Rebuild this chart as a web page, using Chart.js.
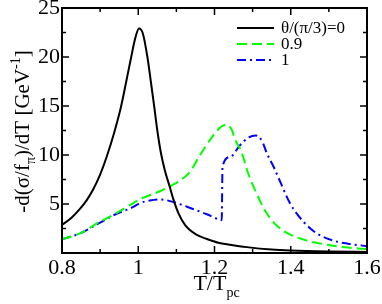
<!DOCTYPE html>
<html lang="en">
  <head>
    <meta charset="UTF-8" />
    <title>-d(sigma/f_pi)/dT vs T/Tpc</title>
    <style>
      body {
        margin: 0;
        background: #fff;
        font-family: "Liberation Serif", serif;
      }
      .chart-container {
        width: 382px;
        height: 304px;
      }
    </style>
  </head>
  <body>
    <div class="chart-container">
      <canvas id="sigmaChart"></canvas>
    </div>

    <script src="https://cdn.jsdelivr.net/npm/chart.js"></script>
    <script>
      // theta/(pi/3) = 0
      const xTheta0 = [0.8, 0.825, 0.847, 0.865, 0.882, 0.9, 0.917, 0.937, 0.954, 0.968, 0.981,
        0.992, 1.002, 1.012, 1.024, 1.033, 1.042, 1.05, 1.06, 1.07, 1.083, 1.092, 1.105, 1.123, 1.154,
        1.18, 1.21, 1.24, 1.285, 1.35, 1.4, 1.5, 1.6];
      const yTheta0 = [2.86, 3.6, 4.5, 5.4, 6.5, 8.0, 9.8, 12.3, 14.8, 17.4, 19.9,
        21.9, 22.9, 22.4, 20.0, 17.5, 14.9, 12.5, 10.1, 8.4, 6.7, 5.5, 4.1, 2.85, 1.84,
        1.43, 1.05, 0.85, 0.6, 0.35, 0.25, 0.15, 0.1];

      // theta/(pi/3) = 0.9
      const xTheta09 = [0.8, 0.847, 0.9, 0.935, 0.987, 1.005, 1.057, 1.083, 1.11, 1.136, 1.162, 1.197,
        1.215, 1.23, 1.245, 1.254, 1.272, 1.285, 1.302, 1.337, 1.372, 1.416, 1.46, 1.503, 1.55, 1.6];
      const yTheta09 = [1.4, 2.0, 3.2, 3.9, 5.1, 5.5, 6.3, 6.8, 7.4, 8.3, 10.0, 12.0,
        12.8, 13.1, 12.6, 11.6, 10.2, 8.5, 6.8, 4.05, 2.5, 1.6, 1.1, 0.8, 0.55, 0.4];

      // theta/(pi/3) = 1
      const xTheta1 = [0.8, 0.847, 0.9, 0.935, 0.987, 1.005, 1.03, 1.057, 1.092, 1.145, 1.18, 1.21,
        1.219, 1.221, 1.241, 1.267, 1.29, 1.308, 1.325, 1.337, 1.355, 1.372, 1.398, 1.433,
        1.468, 1.512, 1.55, 1.6];
      const yTheta1 = [1.4, 2.0, 3.1, 3.85, 4.7, 5.1, 5.35, 5.47, 5.2, 4.46, 3.95, 3.44,
        3.35, 8.8, 9.8, 11.0, 11.8, 12.0, 11.4, 10.2, 8.8, 7.3, 5.07, 3.2,
        2.0, 1.26, 0.95, 0.7];

      const xTicks = [0.8, 1.0, 1.2, 1.4, 1.6];
      const yTicks = [0, 5, 10, 15, 20, 25];

      const serif = "'Liberation Serif', 'DejaVu Serif', serif";

      function toPoints(xs, ys) {
        return xs.map((x, i) => ({ x: x, y: ys[i] }));
      }

      // draws text with plain / subscript / superscript parts, centred on (0,0)
      function drawRich(ctx, parts, size) {
        const small = Math.round(size * 0.65);
        let total = 0;
        parts.forEach((p) => {
          ctx.font = (p[1] === "n" ? size : small) + "px " + serif;
          p.w = ctx.measureText(p[0]).width;
          total += p.w;
        });
        let x = -total / 2;
        ctx.textAlign = "left";
        ctx.textBaseline = "alphabetic";
        parts.forEach((p) => {
          ctx.font = (p[1] === "n" ? size : small) + "px " + serif;
          let dy = 0;
          if (p[1] === "sub") dy = size * 0.3;
          if (p[1] === "sup") dy = -size * 0.42;
          ctx.fillText(p[0], x, dy);
          x += p.w;
        });
      }

      const framePlugin = {
        id: "frame",
        afterDraw(chart) {
          const ctx = chart.ctx;
          const area = chart.chartArea;
          const xs = chart.scales.x;
          const ys = chart.scales.y;
          ctx.save();
          ctx.strokeStyle = "#000";
          ctx.fillStyle = "#000";

          // inside tick marks on all four sides
          ctx.lineWidth = 1.5;
          function tick(px, len, vertical) {
            ctx.beginPath();
            if (vertical) {
              ctx.moveTo(px, area.bottom);
              ctx.lineTo(px, area.bottom - len);
              ctx.moveTo(px, area.top);
              ctx.lineTo(px, area.top + len);
            } else {
              ctx.moveTo(area.left, px);
              ctx.lineTo(area.left + len, px);
              ctx.moveTo(area.right, px);
              ctx.lineTo(area.right - len, px);
            }
            ctx.stroke();
          }
          for (let i = 0; i < xTicks.length; i++) {
            tick(xs.getPixelForValue(xTicks[i]), 7, true);
            if (i < xTicks.length - 1) {
              tick(xs.getPixelForValue((xTicks[i] + xTicks[i + 1]) / 2), 4, true);
            }
          }
          for (let i = 0; i < yTicks.length; i++) {
            tick(ys.getPixelForValue(yTicks[i]), 7, false);
            if (i < yTicks.length - 1) {
              tick(ys.getPixelForValue((yTicks[i] + yTicks[i + 1]) / 2), 4, false);
            }
          }

          ctx.lineWidth = 2;
          ctx.strokeRect(area.left, area.top, area.right - area.left, area.bottom - area.top);

          // axis titles
          ctx.save();
          ctx.translate((area.left + area.right) / 2 + 2, 290);
          drawRich(ctx, [["T/T", "n"], ["pc", "sub"]], 22);
          ctx.restore();

          ctx.save();
          ctx.translate(29, (area.top + area.bottom) / 2 + 1);
          ctx.rotate(-Math.PI / 2);
          drawRich(ctx, [["-d(σ/f", "n"], ["π", "sub"], [")/dT [GeV", "n"], ["-1", "sup"], ["]", "n"]], 21);
          ctx.restore();

          // legend inside plot, top right
          ctx.font = "17px " + serif;
          ctx.textAlign = "left";
          ctx.textBaseline = "middle";
          chart.data.datasets.forEach((ds, i) => {
            const y = 28 + i * 16;
            ctx.beginPath();
            ctx.lineWidth = 2;
            ctx.strokeStyle = ds.borderColor;
            ctx.setLineDash(ds.borderDash || []);
            ctx.moveTo(237, y);
            ctx.lineTo(274, y);
            ctx.stroke();
            ctx.setLineDash([]);
            ctx.fillText(ds.label, 281, y + 1);
          });
          ctx.restore();
        },
      };

      const config = {
        type: "line",
        data: {
          datasets: [
            {
              label: "θ/(π/3)=0",
              data: toPoints(xTheta0, yTheta0),
              borderColor: "#000000",
            },
            {
              label: "0.9",
              data: toPoints(xTheta09, yTheta09),
              borderColor: "#00ff00",
              borderDash: [10, 5],
            },
            {
              label: "1",
              data: toPoints(xTheta1, yTheta1),
              borderColor: "#0000ff",
              borderDash: [9, 4, 2, 4],
            },
          ],
        },
        options: {
          responsive: true,
          maintainAspectRatio: false,
          animation: false,
          layout: {
            autoPadding: false,
            padding: { top: 8, right: 15, left: 0, bottom: 0 },
          },
          elements: {
            point: { radius: 0 },
            line: { borderWidth: 2, cubicInterpolationMode: "monotone", fill: false },
          },
          plugins: {
            legend: { display: false },
            tooltip: { enabled: false },
          },
          scales: {
            x: {
              type: "linear",
              min: 0.8,
              max: 1.6,
              grid: { display: false, drawTicks: false },
              border: { display: false },
              afterBuildTicks(scale) {
                scale.ticks = xTicks.map((v) => ({ value: v }));
              },
              afterFit(scale) {
                scale.height = 51;
                scale.paddingLeft = 0;
                scale.paddingRight = 0;
              },
              ticks: {
                color: "#000",
                padding: 2,
                maxRotation: 0,
                font: { family: serif, size: 22 },
                callback: (v) => String(+v.toFixed(1)),
              },
            },
            y: {
              min: 0,
              max: 25,
              grid: { display: false, drawTicks: false },
              border: { display: false },
              afterBuildTicks(scale) {
                scale.ticks = yTicks.map((v) => ({ value: v }));
              },
              afterFit(scale) {
                scale.width = 62;
                scale.paddingTop = 0;
                scale.paddingBottom = 0;
              },
              ticks: {
                color: "#000",
                padding: 2,
                font: { family: serif, size: 22 },
                callback: (v) => (v === 0 ? "" : String(v)),
              },
            },
          },
        },
        plugins: [framePlugin],
      };

      let sigmaChart;
      Promise.all([
        document.fonts.load("22px 'Liberation Serif'"),
        document.fonts.load("17px 'Liberation Serif'"),
      ])
        .catch(() => {})
        .then(() => {
          sigmaChart = new Chart(document.getElementById("sigmaChart"), config);
        });
    </script>
  </body>
</html>
